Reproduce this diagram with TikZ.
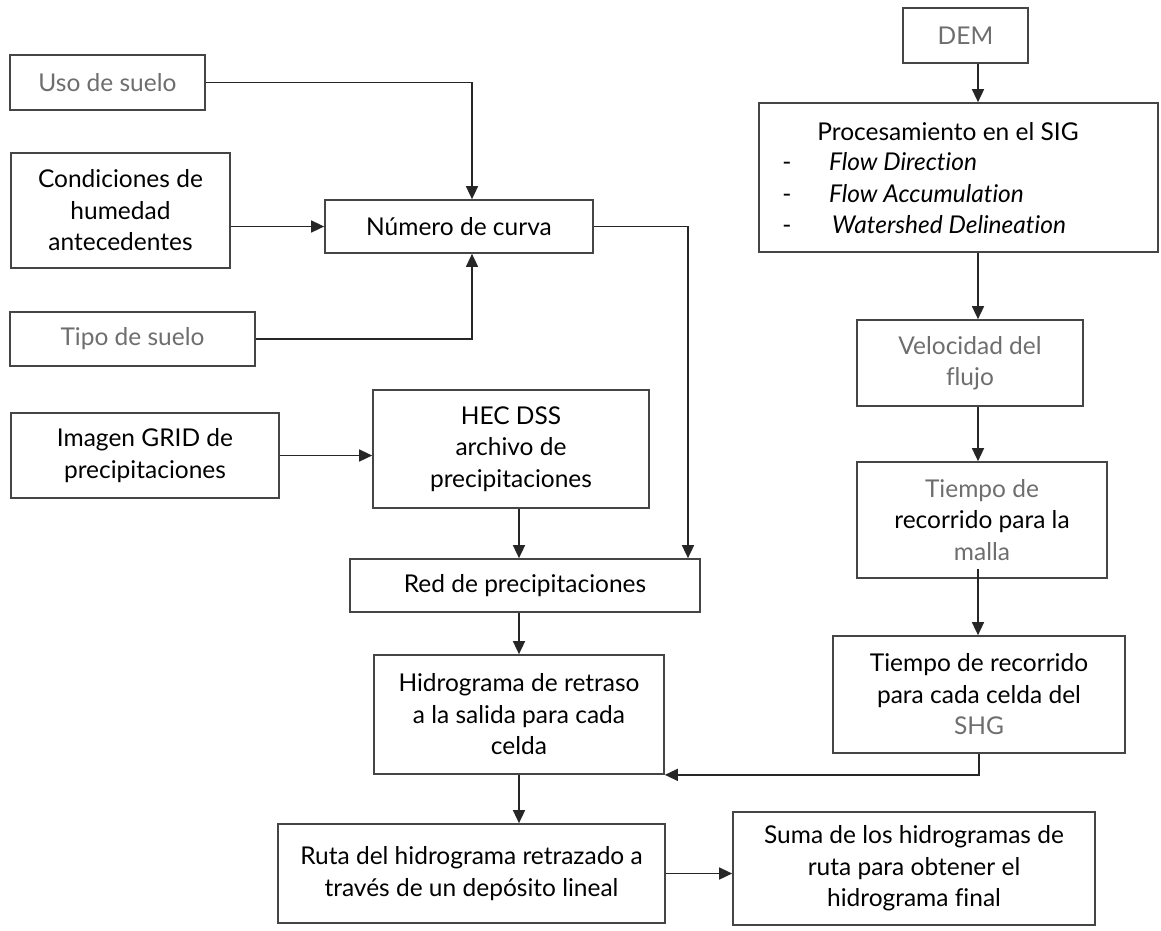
\documentclass[tikz,border=0pt]{standalone}
\usepackage{fontspec}
\setmainfont{Lato}[Ligatures=NoCommon]
\usetikzlibrary{arrows.meta,calc}
\definecolor{edge}{HTML}{454545}
\definecolor{wire}{HTML}{262626}
\definecolor{soft}{HTML}{6E6E6E}
\newcommand{\boxfont}{\fontsize{24.5}{31.5}\selectfont}
\tikzset{
  box/.style={draw=edge, line width=1.7pt, fill=white, align=center, inner sep=2pt,
              font=\boxfont},
  label/.style={inner sep=0pt, font=\boxfont},
  arr/.style={draw=wire, line width=1.5pt, -{Triangle[length=13pt,width=12pt]}},
}
\begin{document}
\begin{tikzpicture}[x=1pt,y=-1pt]
\useasboundingbox (0,0) rectangle (1161,930);
\fill[white] (0,0) rectangle (1161,930);

% left column: inputs of the curve number
\node[box, minimum width=195pt, minimum height=55pt, text=soft] (uso) at (107.5,82.5) {Uso de suelo};
\node[box, minimum width=219pt, minimum height=115pt] (cond) at (120.5,210.5) {Condiciones de\\humedad\\antecedentes};
\node[box, minimum width=245pt, minimum height=54pt, text=soft] (tipo) at (132.5,339) {Tipo de suelo};
\node[box, minimum width=268pt, minimum height=53pt] (num) at (459,226.5) {Número de curva};

% precipitation chain
\node[box, minimum width=268pt, minimum height=85pt] (img) at (145,455.5) {Imagen GRID de\\precipitaciones};
\node[box, minimum width=276pt, minimum height=118pt] (hec) at (511,449) {HEC DSS\\archivo de\\precipitaciones};
\node[box, minimum width=350pt, minimum height=53pt] (red) at (525,585.5) {Red de precipitaciones};
\node[box, minimum width=290pt, minimum height=119pt] (hid) at (519,714.5) {Hidrograma de retraso\\a la salida para cada\\celda};
\node[box, minimum width=387pt, minimum height=99pt] (ruta) at (471.5,873.5) {Ruta del hidrograma retrazado a\\través de un depósito lineal};
\node[box, minimum width=362pt, minimum height=113pt] (suma) at (914,868.5) {Suma de los hidrogramas de\\ruta para obtener el\\hidrograma final};

% terrain chain
\node[box, minimum width=125pt, minimum height=55pt, text=soft] (dem) at (965.5,35.5) {DEM};
\node[box, minimum width=399pt, minimum height=149pt] (proc) at (958.5,177.5) {};
\node[label, anchor=base] (ptitle) at (948,140) {Procesamiento en el SIG};
\node[label, anchor=base] (dA) at (787,170) {-};
\node[label, anchor=base] (dB) at (787,202) {-};
\node[label, anchor=base] (dC) at (787,233) {-};
\node[label, anchor=base west, font=\boxfont\itshape] (fA) at (829,170) {Flow Direction};
\node[label, anchor=base west, font=\boxfont\itshape] (fB) at (829,202) {Flow Accumulation};
\node[label, anchor=base west, font=\boxfont\itshape] (fC) at (832,233) {Watershed Delineation};
\node[box, minimum width=226pt, minimum height=86pt, text=soft] (vel) at (970,363) {Velocidad del\\flujo};
\node[box, minimum width=250pt, minimum height=116pt] (malla) at (982,520) {\textcolor{soft}{Tiempo de}\\recorrido para la\\\textcolor{soft}{malla}};
\node[box, minimum width=292pt, minimum height=117pt] (shg) at (979,694.5) {Tiempo de recorrido\\para cada celda del\\\textcolor{soft}{SHG}};

% vertical line of the right column
\coordinate (col) at (978,0);

% connectors
\draw[arr] (uso.east) -| ([xshift=13pt]num.north);
\draw[arr] (tipo.east) -| ([xshift=13pt]num.south);
\draw[arr] (cond.east |- num.west) -- (num.west);
\draw[arr] (num.east) -| ([xshift=163pt]red.north);
\draw[arr] (img.east) -- (img.east -| hec.west);
\draw[arr] (hec.south -| hid.north) -- (red.north -| hid.north);
\draw[arr] (red.south -| hid.north) -- (hid.north);
\draw[arr] (hid.south) -- (ruta.north -| hid.south);
\draw[arr] (ruta.east) -- (ruta.east -| suma.west);
\draw[arr] (dem.south -| col) -- (proc.north -| col);
\draw[arr] (proc.south -| col) -- (vel.north -| col);
\draw[arr] (vel.south -| col) -- (malla.north -| col);
\draw[arr] ([yshift=10pt]malla.south -| col) -- (shg.north -| col);
\draw[arr] (shg.south) |- (hid.south east);
\end{tikzpicture}
\end{document}
